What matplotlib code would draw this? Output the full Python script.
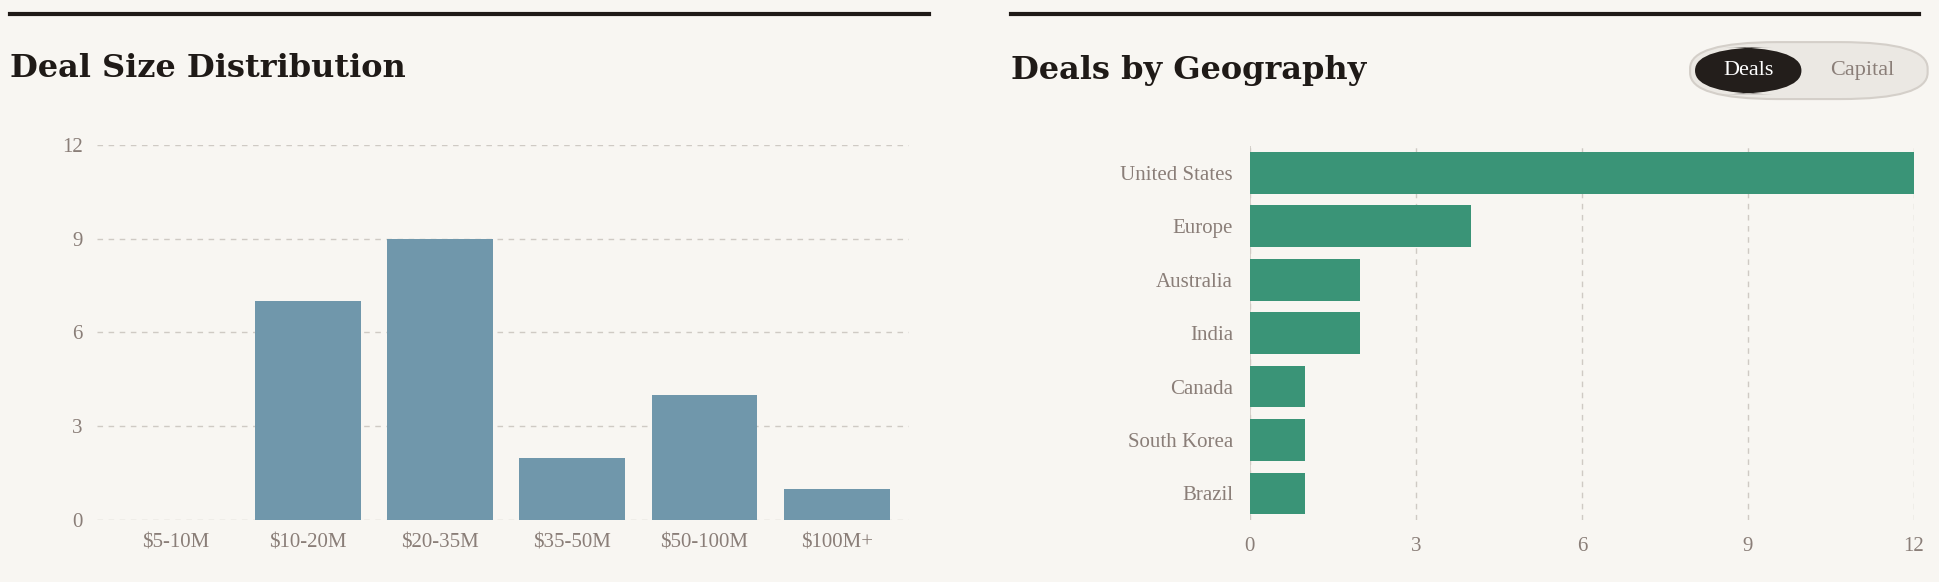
import matplotlib.pyplot as plt
from matplotlib.patches import FancyBboxPatch
from matplotlib.lines import Line2D

size_labels = ['$5-10M', '$10-20M', '$20-35M', '$35-50M', '$50-100M', '$100M+']
size_counts = [0, 7, 9, 2, 4, 1]

geo_labels = ['United States', 'Europe', 'Australia', 'India', 'Canada', 'South Korea', 'Brazil']
geo_counts = [12, 4, 2, 2, 1, 1, 1]

BG = '#f8f6f2'
TICK = '#8a7e78'
GRID = '#cfcac4'
W, H = 1568, 470

fig = plt.figure(figsize=(19.4, 5.82), dpi=100, facecolor=BG)
serif = ['DejaVu Serif']
tick_font = dict(family='Liberation Serif', size=15, color=TICK)

def fx(px):
    return px / W

def fy(py):
    return 1 - py / H

# top rules and titles
fig.add_artist(Line2D([fx(8), fx(751)], [fy(11), fy(11)], color='#1f1a17', lw=3))
fig.add_artist(Line2D([fx(817), fx(1551)], [fy(11), fy(11)], color='#1f1a17', lw=3))
fig.text(fx(8), fy(55), 'Deal Size Distribution', family=serif, weight='bold',
         size=23, color='#1f1a17', va='center')
fig.text(fx(817), fy(57), 'Deals by Geography', family=serif, weight='bold',
         size=23, color='#1f1a17', va='center')

# toggle
fig.add_artist(FancyBboxPatch((fx(1366), fy(80)), fx(192), fy(34) - fy(80),
                              boxstyle='round,pad=0,rounding_size=0.045',
                              transform=fig.transFigure, fc='#ebe8e3', ec='#d4cfc9', lw=1.5,
                              mutation_aspect=W / H * 582 / 1940 * 1940 / 582 * H / W * 1.0))
fig.add_artist(FancyBboxPatch((fx(1370), fy(76)), fx(86), fy(38) - fy(76),
                              boxstyle='round,pad=0,rounding_size=0.04',
                              transform=fig.transFigure, fc='#231e1b', ec='none'))
fig.text(fx(1413), fy(57), 'Deals', family='Liberation Serif', size=16, color='white',
         ha='center', va='center')
fig.text(fx(1505), fy(57), 'Capital', family='Liberation Serif', size=16, color=TICK,
         ha='center', va='center')

# left chart
ax1 = fig.add_axes([fx(78), fy(420), fx(735 - 78), fy(117) - fy(420)], facecolor=BG)
ax1.bar(range(len(size_labels)), size_counts, width=0.8, color='#7097ab', zorder=3)
ax1.set_ylim(0, 12)
ax1.set_xlim(-0.6, len(size_labels) - 0.45)
ax1.set_yticks([0, 3, 6, 9, 12])
ax1.set_xticks(range(len(size_labels)))
ax1.set_xticklabels(size_labels)
ax1.grid(axis='y', ls=(0, (4, 4)), color=GRID, lw=1)
for s in ax1.spines.values():
    s.set_visible(False)
ax1.tick_params(length=0, pad=10)
for t in ax1.get_xticklabels() + ax1.get_yticklabels():
    t.set_fontfamily(tick_font['family'])
    t.set_fontsize(tick_font['size'])
    t.set_color(TICK)
ax1.set_clip_on(False)

# right chart
ax2 = fig.add_axes([fx(1010), fy(420), fx(1547 - 1010), fy(118) - fy(420)], facecolor=BG)
ypos = range(len(geo_labels))
ax2.barh(list(ypos), geo_counts, height=0.78, color='#3a9477', zorder=3)
ax2.set_ylim(len(geo_labels) - 0.5, -0.5)
ax2.set_xlim(0, 12)
ax2.set_xticks([0, 3, 6, 9, 12])
ax2.set_yticks(list(ypos))
ax2.set_yticklabels(geo_labels)
ax2.grid(axis='x', ls=(0, (4, 4)), color=GRID, lw=1)
for s in ax2.spines.values():
    s.set_visible(False)
ax2.axvline(0, color=GRID, lw=1.2, zorder=2)
ax2.tick_params(length=0, pad=12)
for t in ax2.get_xticklabels() + ax2.get_yticklabels():
    t.set_fontfamily(tick_font['family'])
    t.set_fontsize(tick_font['size'])
    t.set_color(TICK)

fig.savefig('out.png', dpi=100, facecolor=BG)
